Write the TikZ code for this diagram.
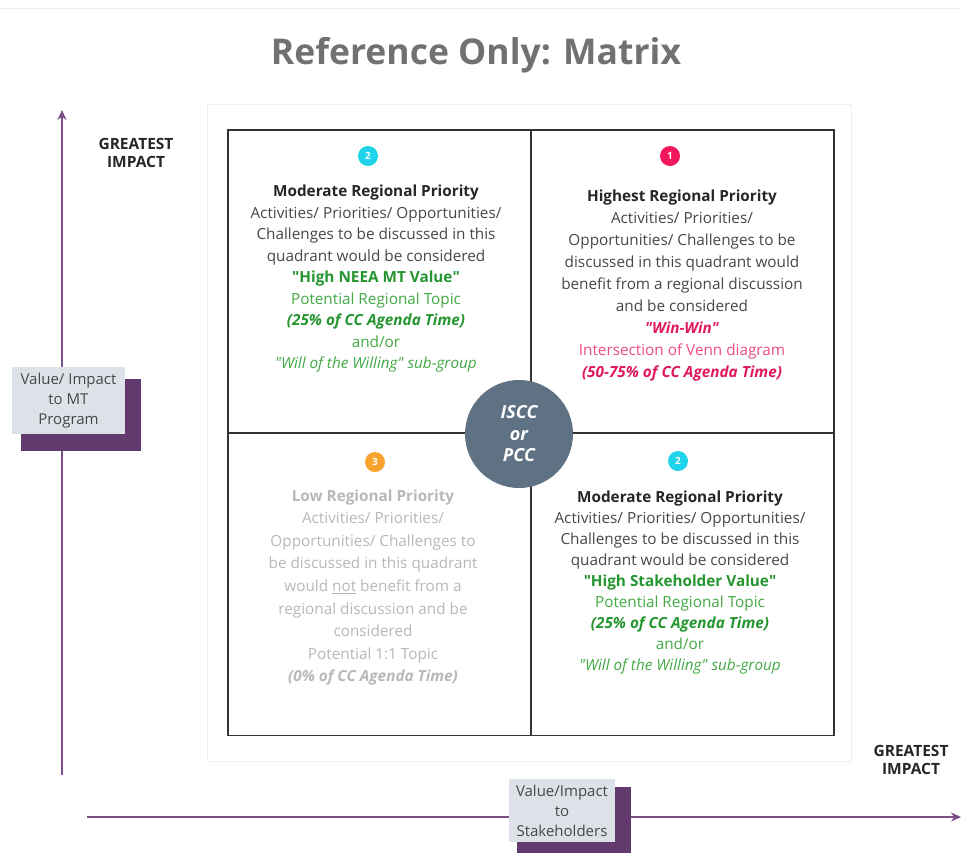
\documentclass[tikz,border=0pt]{standalone}
\usepackage{fontspec}
\setmainfont{Open Sans}
\usetikzlibrary{arrows.meta}
\definecolor{axispurple}{HTML}{7D4F88}
\definecolor{shadowpurple}{HTML}{633A6E}
\definecolor{labelgray}{HTML}{DDE2E8}
\definecolor{hubslate}{HTML}{5F7283}
\definecolor{titlegray}{HTML}{717171}
\definecolor{bodygray}{HTML}{474747}
\definecolor{lowgray}{HTML}{B8B8B8}
\definecolor{midgreen}{HTML}{42AA44}
\definecolor{deepgreen}{HTML}{25962F}
\definecolor{winred}{HTML}{E0195A}
\definecolor{vennpink}{HTML}{EE4D7E}
\definecolor{badgecyan}{HTML}{1ED3EA}
\definecolor{badgered}{HTML}{F3165C}
\definecolor{badgeorange}{HTML}{F9A32D}
\tikzset{
  axis/.style={axispurple,line width=2pt,-{Stealth[length=10pt,width=9pt]}},
  badge/.style={circle,fill=#1,text=white,inner sep=0pt,minimum size=20pt,
    font=\bfseries\fontsize{10}{10}\selectfont},
  quadtext/.style={align=center,text=bodygray,font=\fontsize{15.3}{#1}\selectfont},
  quadtext/.default=21.5,
  cell/.style={draw=black!80,line width=1.6pt,minimum width=303pt,minimum height=303pt,inner sep=0pt},
  axislabel/.style={fill=labelgray,align=center,text=bodygray,inner sep=0pt,
    font=\fontsize{15}{20}\selectfont},
  labelshadow/.style={fill=shadowpurple,inner sep=0pt},
  impact/.style={align=center,text=black!85,font=\bfseries\fontsize{15.5}{18}\selectfont}
}
\newcommand{\head}[1]{{\bfseries\color{black!85}#1}}
\newcommand{\qt}{\textquotedbl}
\begin{document}
\begin{tikzpicture}[x=1pt,y=-1pt]
  \useasboundingbox (0,0) rectangle (961,852);
  \draw[black!7] (0,8) -- (961,8);
  \draw[black!6,fill=white] (207,104) rectangle (851,761);
  \node[font=\bfseries\fontsize{35.5}{40}\selectfont,text=titlegray] (title) at (476,55) {Reference Only: Matrix};
  \coordinate (ybase) at (62,775);
  \coordinate (ytip) at (62,110);
  \coordinate (xbase) at (87,817);
  \coordinate (xtip) at (961,817);
  \draw[axis] (ybase) -- (ytip);
  \draw[axis] (xbase) -- (xtip);
  \node[impact] (ygreat) at (136,153) {GREATEST\\IMPACT};
  \node[impact] (xgreat) at (911,760) {GREATEST\\IMPACT};
  \node[labelshadow,minimum width=120pt,minimum height=72pt] (yshadow) at (81,415) {};
  \node[axislabel,minimum width=113pt,minimum height=67pt] (ylabel) at (68.5,400.5) {Value/ Impact\\to MT\\Program};
  \node[labelshadow,minimum width=114pt,minimum height=75pt] (xshadow) at (574,824.5) {};
  \node[axislabel,minimum width=106pt,minimum height=63pt] (xlabel) at (562,810.5) {Value/Impact\\to\\Stakeholders};
  \foreach \name/\cx/\cy in {tl/379.5/281.5, tr/682.5/281.5, bl/379.5/584, br/682.5/584}
    {\node[cell] (\name) at (\cx,\cy) {};}
  \node[badge=badgecyan] (btl) at (368,156) {2};
  \node[badge=badgered] (btr) at (670,156) {1};
  \node[badge=badgeorange] (bbl) at (375,462) {3};
  \node[badge=badgecyan] (bbr) at (678,461) {2};
  \node[quadtext] (ttl) at (376,279) {\head{Moderate Regional Priority}\\
    Activities/ Priorities/ Opportunities/\\
    Challenges to be discussed in this\\
    quadrant would be considered\\
    {\bfseries\color{deepgreen}\qt High NEEA MT Value\qt}\\
    {\color{midgreen}Potential Regional Topic}\\
    {\bfseries\itshape\color{deepgreen}(25\% of CC Agenda Time)}\\
    {\color{midgreen}and/or}\\
    {\itshape\color{midgreen}\qt Will of the Willing\qt{} sub-group}};
  \node[quadtext=21.9] (ttr) at (682,285.5) {\head{Highest Regional Priority}\\
    Activities/ Priorities/\\
    Opportunities/ Challenges to be\\
    discussed in this quadrant would\\
    benefit from a regional discussion\\
    and be considered\\
    {\bfseries\itshape\color{winred}\qt Win-Win\qt}\\
    {\color{vennpink}Intersection of Venn diagram}\\
    {\bfseries\itshape\color{winred}(50-75\% of CC Agenda Time)}};
  \node[quadtext=22.6,text=lowgray] (tbl) at (373,587.5) {{\bfseries Low Regional Priority}\\
    Activities/ Priorities/\\
    Opportunities/ Challenges to\\
    be discussed in this quadrant\\
    would \underline{not} benefit from a\\
    regional discussion and be\\
    considered\\
    Potential 1:1 Topic\\
    {\bfseries\itshape (0\% of CC Agenda Time)}};
  \node[quadtext=21] (tbr) at (680,583) {\head{Moderate Regional Priority}\\
    Activities/ Priorities/ Opportunities/\\
    Challenges to be discussed in this\\
    quadrant would be considered\\
    {\bfseries\color{deepgreen}\qt High Stakeholder Value\qt}\\
    {\color{midgreen}Potential Regional Topic}\\
    {\bfseries\itshape\color{deepgreen}(25\% of CC Agenda Time)}\\
    {\color{midgreen}and/or}\\
    {\itshape\color{midgreen}\qt Will of the Willing\qt{} sub-group}};
  \node[circle,fill=hubslate,minimum size=108pt,inner sep=0pt,align=center,text=white,
    font=\bfseries\itshape\fontsize{18}{21.5}\selectfont] (hub) at (519,434) {ISCC\\or\\PCC};
\end{tikzpicture}
\end{document}
